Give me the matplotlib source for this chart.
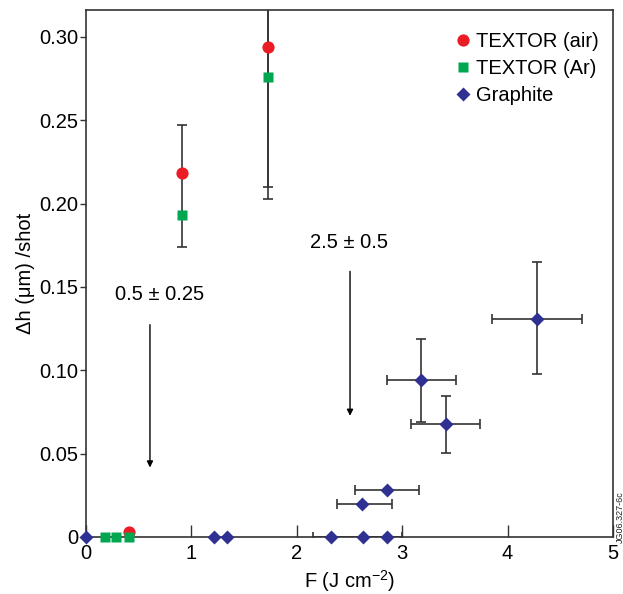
import matplotlib
matplotlib.use("Agg")
import matplotlib.pyplot as plt
import numpy as np

plt.rcParams['font.family'] = ['Liberation Sans', 'DejaVu Sans']
plt.rcParams['mathtext.fontset'] = 'custom'
plt.rcParams['mathtext.rm'] = 'Liberation Sans'
plt.rcParams['mathtext.it'] = 'Liberation Sans'

# TEXTOR (air)
air_x = [0.41, 0.91, 1.73]
air_y = [0.003, 0.218, 0.294]
air_yerr_lo = [0.0, 0.0, 0.084]
air_yerr_hi = [0.0, 0.029, 0.084]

# TEXTOR (Ar)
ar_x = [0.176, 0.287, 0.406, 0.91, 1.73]
ar_y = [0.0, 0.0, 0.0, 0.193, 0.276]
ar_yerr_lo = [0.0, 0.0, 0.0, 0.019, 0.073]
ar_yerr_hi = [0.0, 0.0, 0.0, 0.025, 0.073]

# Graphite
gr_x = [0.0, 1.21, 1.335, 2.32, 2.627, 2.86, 2.62, 2.856, 3.18, 3.415, 4.28]
gr_y = [0.0, 0.0, 0.0, 0.0, 0.0, 0.0, 0.0195, 0.028, 0.094, 0.0676, 0.131]
gr_xerr_lo = [0, 0, 0, 0, 0.473, 0, 0.24, 0.30, 0.32, 0.335, 0.43]
gr_xerr_hi = [0, 0, 0, 0, 0.373, 0, 0.28, 0.30, 0.33, 0.32, 0.43]
gr_yerr_lo = [0, 0, 0, 0, 0, 0, 0, 0, 0.025, 0.017, 0.033]
gr_yerr_hi = [0, 0, 0, 0, 0, 0, 0, 0, 0.025, 0.017, 0.034]

xticks = [0, 1, 2, 3, 4, 5]
yticks = [0, 0.05, 0.10, 0.15, 0.20, 0.25, 0.30]
yticklabels = ['0', '0.05', '0.10', '0.15', '0.20', '0.25', '0.30']

red = '#ec1c24'
green = '#00a650'
blue = '#2e3192'
ecol = '#333333'
FS = 14.5

fig = plt.figure(figsize=(6.23, 5.94), dpi=100)
ax = fig.add_axes([0.138, 0.096, 0.846, 0.887])


def draw_err(x, y, lo, hi, horizontal):
    """Draw each non-zero error side as a line with an end cap."""
    x = np.asarray(x, float); y = np.asarray(y, float)
    lo = np.asarray(lo, float); hi = np.asarray(hi, float)
    for i in range(len(x)):
        for d, sgn in ((lo[i], -1), (hi[i], 1)):
            if d <= 0:
                continue
            if horizontal:
                x1 = x[i] + sgn * d
                ax.plot([x[i], x1], [y[i], y[i]], color=ecol, lw=1.2, zorder=2, solid_capstyle='butt')
                ax.plot([x1], [y[i]], marker='|', ms=7, mew=1.2, color=ecol, zorder=2)
            else:
                y1 = y[i] + sgn * d
                ax.plot([x[i], x[i]], [y[i], y1], color=ecol, lw=1.2, zorder=2, solid_capstyle='butt')
                ax.plot([x[i]], [y1], marker='_', ms=7, mew=1.2, color=ecol, zorder=2)


draw_err(air_x, air_y, air_yerr_lo, air_yerr_hi, False)
draw_err(ar_x, ar_y, ar_yerr_lo, ar_yerr_hi, False)
draw_err(gr_x, gr_y, gr_xerr_lo, gr_xerr_hi, True)
draw_err(gr_x, gr_y, gr_yerr_lo, gr_yerr_hi, False)

ax.plot(air_x, air_y, 'o', color=red, ms=8.8, mec='none', clip_on=False, zorder=3, label='TEXTOR (air)')
ax.plot(ar_x, ar_y, 's', color=green, ms=7.9, mec='none', clip_on=False, zorder=4, label='TEXTOR (Ar)')
ax.plot(gr_x, gr_y, 'D', color=blue, ms=7.6, mec='none', clip_on=False, zorder=5, label='Graphite')

ax.set_xlim(0, 5)
ax.set_ylim(0, 0.316)
ax.set_xticks(xticks)
ax.set_xticklabels([str(t) for t in xticks])
ax.set_yticks(yticks)
ax.set_yticklabels(yticklabels)
ax.tick_params(axis='x', direction='in', length=9, width=1, labelsize=FS, pad=5, color='#333333')
ax.tick_params(axis='y', direction='out', length=4, width=1, labelsize=FS, pad=1.5, color='#333333')
for s in ax.spines.values():
    s.set_linewidth(1.2)
    s.set_color('#333333')

ax.set_xlabel('F (J cm$^{-2}$)', fontsize=FS, labelpad=4)
ax.set_ylabel('\u0394h (\u03bcm) /shot', fontsize=FS, labelpad=3)

leg = ax.legend(loc='upper right', bbox_to_anchor=(1.0, 0.985), frameon=False, fontsize=FS,
                handletextpad=0.15, handlelength=1.0, labelspacing=0.4, borderaxespad=0.3)

ax.annotate('', xy=(0.607, 0.040), xytext=(0.607, 0.129),
            arrowprops=dict(arrowstyle='-|>', color='black', lw=1.0, mutation_scale=9))
ax.annotate('', xy=(2.505, 0.071), xytext=(2.505, 0.161),
            arrowprops=dict(arrowstyle='-|>', color='black', lw=1.0, mutation_scale=9))
ax.text(0.70, 0.1455, '0.5 \u00b1 0.25', fontsize=FS, ha='center', va='center')
ax.text(2.495, 0.1764, '2.5 \u00b1 0.5', fontsize=FS, ha='center', va='center')

fig.text(0.988, 0.13, 'JG06.327-6c', rotation=90, fontsize=6.5, ha='left', va='center', color='#222222')

fig.savefig('out.png', dpi=100)
